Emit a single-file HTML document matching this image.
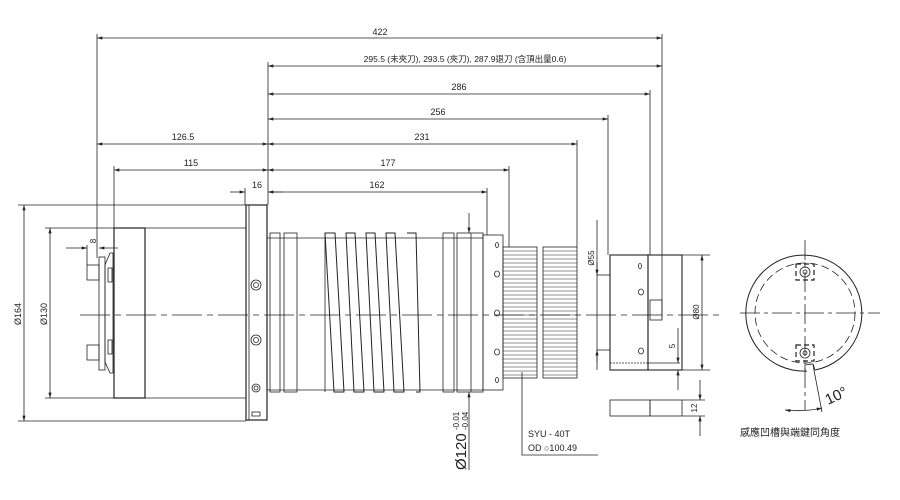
<!DOCTYPE html>
<html><head><meta charset="utf-8"><style>
html,body{margin:0;padding:0;background:#fff;}
svg{display:block;}
text{font-family:"Liberation Sans","Noto Sans CJK TC",sans-serif;fill:#222;}
</style></head><body>
<svg width="900" height="500" viewBox="0 0 900 500" xmlns="http://www.w3.org/2000/svg">
<defs>
<marker id="a" viewBox="0 0 10 6" refX="10" refY="3" markerWidth="8" markerHeight="4" orient="auto-start-reverse"><path d="M0,0L10,3L0,6z" fill="#222"/></marker>
</defs>
<g stroke="#222" stroke-width="0.8" fill="none">
<!-- top dimension lines -->
<g marker-start="url(#a)" marker-end="url(#a)">
<line x1="97" y1="38" x2="662" y2="38"/>
<line x1="268" y1="66" x2="662" y2="66"/>
<line x1="268" y1="94" x2="650" y2="94"/>
<line x1="268" y1="119" x2="608" y2="119"/>
<line x1="268" y1="144" x2="577" y2="144"/>
<line x1="97" y1="144" x2="268" y2="144"/>
<line x1="114" y1="170" x2="268" y2="170"/>
<line x1="268" y1="170" x2="509" y2="170"/>
<line x1="268" y1="192" x2="487" y2="192"/>
</g>
<line x1="230" y1="192" x2="245" y2="192" marker-end="url(#a)"/>
<line x1="283" y1="192" x2="268" y2="192"/>
<!-- extension lines -->
<line x1="97" y1="34" x2="97" y2="258"/>
<line x1="268" y1="62" x2="268" y2="205"/>
<line x1="662" y1="34" x2="662" y2="318"/>
<line x1="650" y1="90" x2="650" y2="255"/>
<line x1="608" y1="115" x2="608" y2="255"/>
<line x1="577" y1="140" x2="577" y2="247"/>
<line x1="114" y1="166" x2="114" y2="228"/>
<line x1="509" y1="166" x2="509" y2="247"/>
<line x1="487" y1="188" x2="487" y2="235"/>
<line x1="245" y1="188" x2="245" y2="205"/>
<!-- left dims -->
<line x1="18" y1="205" x2="246" y2="205"/>
<line x1="18" y1="421" x2="246" y2="421"/>
<line x1="45" y1="228" x2="114" y2="228"/>
<line x1="45" y1="398" x2="114" y2="398"/>
<line x1="24" y1="205" x2="24" y2="421" marker-start="url(#a)" marker-end="url(#a)"/>
<line x1="50" y1="228" x2="50" y2="398" marker-start="url(#a)" marker-end="url(#a)"/>
<line x1="66" y1="248" x2="87" y2="248" marker-end="url(#a)"/>
<line x1="118" y1="248" x2="99" y2="248" marker-end="url(#a)"/>
<line x1="87" y1="245" x2="87" y2="265"/>
<!-- centerline -->
<line x1="80" y1="315" x2="720" y2="315" stroke-dasharray="30,5,6,5" stroke-width="0.7"/>
<!-- pull stud assembly -->
<rect x="87" y="265" width="12" height="15"/>
<rect x="87" y="345" width="12" height="15"/>
<rect x="99" y="257" width="6" height="113"/>
<path d="M105,265 L110,253 L113,253 L113,373 L110,373 L105,362 Z"/>
<rect x="108" y="268" width="4" height="14"/>
<rect x="108" y="340" width="4" height="14"/>
<!-- body 130 -->
<rect x="114" y="228" width="31" height="170" stroke-width="1.2"/>
<line x1="145" y1="228" x2="246" y2="228"/>
<line x1="145" y1="398" x2="246" y2="398"/>
<!-- flange -->
<rect x="246" y="205" width="21" height="215" stroke-width="1.2"/>
<line x1="249" y1="205" x2="249" y2="420"/>
<circle cx="256" cy="285" r="5"/><circle cx="256" cy="285" r="2.5"/>
<circle cx="256" cy="340" r="5"/><circle cx="256" cy="340" r="2.5"/>
<circle cx="256" cy="388" r="4"/><circle cx="256" cy="388" r="2"/>
<rect x="252" y="412" width="8" height="4"/>
<!-- spindle body -->
<line x1="267" y1="238" x2="483" y2="238"/>
<line x1="267" y1="390" x2="483" y2="390"/>
<rect x="270" y="233" width="10" height="159"/>
<rect x="284" y="233" width="13" height="159"/>
<rect x="443" y="233" width="11" height="159"/>
<rect x="457" y="233" width="26" height="159"/>
<line x1="471" y1="233" x2="471" y2="392"/>
<!-- helical -->
<g stroke-width="1">
<path d="M325,233 L335,233 L344,392 L334,392 Z"/>
<path d="M346,233 L355,233 L364,392 L354,392 Z"/>
<path d="M366,233 L375,233 L384,392 L374,392 Z"/>
<path d="M386,233 L395,233 L404,392 L394,392 Z"/>
<path d="M407,233 L416,233 L420,392 L416,392"/>
</g>
<line x1="325" y1="233" x2="325" y2="392"/>
<!-- end plate -->
<rect x="483" y="235" width="20" height="155"/>
<g stroke-width="0.8">
<ellipse cx="497" cy="245" rx="1.5" ry="2.5"/><ellipse cx="497" cy="274" rx="2.5" ry="3"/><ellipse cx="497" cy="313" rx="2.5" ry="3"/><ellipse cx="497" cy="352" rx="2.5" ry="3"/><ellipse cx="497" cy="380" rx="1.5" ry="2.5"/>
</g>
<!-- gear -->
<rect x="503" y="247" width="34" height="131"/>
<rect x="543" y="247" width="34" height="131"/>
<path d="M503,251h34M503,255h34M503,259h34M503,263h34M503,267h34M503,271h34M503,275h34M503,279h34M503,283h34M503,287h34M503,291h34M503,295h34M503,299h34M503,303h34M503,307h34M503,311h34M503,315h34M503,319h34M503,323h34M503,327h34M503,331h34M503,335h34M503,339h34M503,343h34M503,347h34M503,351h34M503,355h34M503,359h34M503,363h34M503,367h34M503,371h34M503,375h34" stroke-width="0.6"/>
<path d="M543,251h34M543,255h34M543,259h34M543,263h34M543,267h34M543,271h34M543,275h34M543,279h34M543,283h34M543,287h34M543,291h34M543,295h34M543,299h34M543,303h34M543,307h34M543,311h34M543,315h34M543,319h34M543,323h34M543,327h34M543,331h34M543,335h34M543,339h34M543,343h34M543,347h34M543,351h34M543,355h34M543,359h34M543,363h34M543,367h34M543,371h34M543,375h34" stroke-width="0.6"/>
<!-- 120 dim -->
<line x1="469" y1="213" x2="469" y2="233" marker-end="url(#a)"/>
<line x1="469" y1="470" x2="469" y2="392" marker-end="url(#a)"/>
<!-- SYU leader -->
<polyline points="522,372 522,455 598,455"/>
<!-- 55 dim -->
<line x1="597" y1="275" x2="610" y2="275"/>
<line x1="597" y1="350" x2="610" y2="350"/>
<line x1="597" y1="220" x2="597" y2="370" />
<line x1="597" y1="262" x2="597" y2="275" marker-end="url(#a)"/>
<line x1="597" y1="362" x2="597" y2="350" marker-end="url(#a)"/>
<!-- right block -->
<rect x="610" y="255" width="38" height="115" stroke-width="1.1"/>
<rect x="648" y="255" width="34" height="115" stroke-width="1.1"/>
<rect x="650" y="300" width="12" height="20"/>
<line x1="610" y1="363" x2="648" y2="363" stroke-dasharray="2,1"/>
<line x1="648" y1="363" x2="680" y2="363"/>
<ellipse cx="640" cy="266" rx="1.5" ry="2.5"/><ellipse cx="641" cy="292" rx="2.5" ry="3"/><ellipse cx="641" cy="351" rx="2.5" ry="3"/>
<line x1="682" y1="255" x2="710" y2="255"/>
<line x1="682" y1="370" x2="710" y2="370"/>
<line x1="702" y1="255" x2="702" y2="370" marker-start="url(#a)" marker-end="url(#a)"/>
<line x1="678" y1="328" x2="678" y2="363" marker-end="url(#a)"/>
<line x1="678" y1="390" x2="678" y2="370" marker-end="url(#a)"/>
<rect x="610" y="400" width="40" height="16"/>
<rect x="650" y="400" width="32" height="16"/>
<line x1="682" y1="400" x2="705" y2="400"/>
<line x1="682" y1="416" x2="705" y2="416"/>
<line x1="700" y1="380" x2="700" y2="400" marker-end="url(#a)"/>
<line x1="700" y1="436" x2="700" y2="416" marker-end="url(#a)"/>
<!-- circle view -->
<path d="M807,371 A58,58 0 1 1 815,370" stroke-width="1"/>
<path d="M805,371 L805,365 L813,364 L815,370" />
<circle cx="805" cy="313" r="50" stroke-dasharray="8,4"/>
<line x1="740" y1="313" x2="880" y2="313" stroke-dasharray="20,4,4,4"/>
<line x1="805" y1="240" x2="805" y2="410" stroke-dasharray="20,4,4,4"/>
<line x1="813" y1="365" x2="822" y2="412"/>
<rect x="796" y="264" width="18" height="16" stroke-width="1.2" stroke-dasharray="5,3"/>
<circle cx="805" cy="272" r="5"/><circle cx="805" cy="272" r="2"/>
<rect x="796" y="345" width="18" height="16" stroke-width="1.2" stroke-dasharray="5,3"/>
<circle cx="805" cy="353" r="5"/><circle cx="805" cy="353" r="2"/>
<path d="M785,410 Q805,412 822,408" marker-start="url(#a)" marker-end="url(#a)"/>
</g>
<g font-size="9">
<text x="380" y="35" text-anchor="middle">422</text>
<text x="465" y="62" text-anchor="middle" font-size="8.5">295.5 (未夾刀), 293.5 (夾刀), 287.9退刀 (含頂出量0.6)</text>
<text x="459" y="90" text-anchor="middle">286</text>
<text x="438" y="115" text-anchor="middle">256</text>
<text x="422" y="140" text-anchor="middle">231</text>
<text x="183" y="140" text-anchor="middle">126.5</text>
<text x="191" y="166" text-anchor="middle">115</text>
<text x="388" y="166" text-anchor="middle">177</text>
<text x="377" y="188" text-anchor="middle">162</text>
<text x="257" y="188" text-anchor="middle">16</text>
<text transform="translate(21,314) rotate(-90)" text-anchor="middle">Ø164</text>
<text transform="translate(47,314) rotate(-90)" text-anchor="middle">Ø130</text>
<text transform="translate(96,241) rotate(-90)" text-anchor="middle" font-size="8">8</text>
<text transform="translate(594,258) rotate(-90)" text-anchor="middle" font-size="8">Ø55</text>
<text transform="translate(699,312) rotate(-90)" text-anchor="middle" font-size="8">Ø80</text>
<text transform="translate(675,346) rotate(-90)" text-anchor="middle" font-size="8">5</text>
<text transform="translate(697,408) rotate(-90)" text-anchor="middle" font-size="8">12</text>
<text x="528" y="437" font-size="9">SYU - 40T</text>
<text x="528" y="451" font-size="9">OD ○100.49</text>
<text x="740" y="436" font-size="10">感應凹槽與端鍵同角度</text>
<text transform="translate(828,405) rotate(-25)" font-size="15">10°</text>
<text transform="translate(466,470) rotate(-90)" font-size="15">Ø120</text>
<text transform="translate(459,430) rotate(-90)" font-size="8">-0.01</text>
<text transform="translate(468,430) rotate(-90)" font-size="8">-0.04</text>
</g>
</svg>
</body></html>
